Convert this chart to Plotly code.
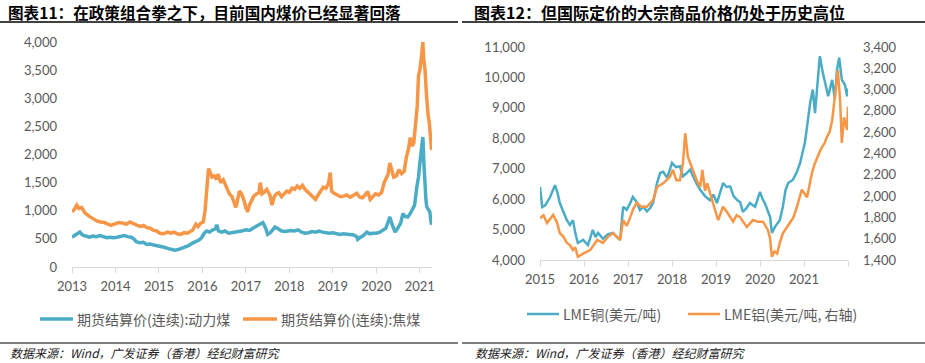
import plotly.graph_objects as go

# ---------------- Left chart: coal futures settlement prices ----------------
coking_x = [2013.00, 2013.05, 2013.11, 2013.16, 2013.22, 2013.30, 2013.40, 2013.48, 2013.57, 2013.66,
            2013.75, 2013.83, 2013.90, 2014.00, 2014.08, 2014.17, 2014.25, 2014.33, 2014.42, 2014.50,
            2014.58, 2014.65, 2014.72, 2014.80, 2014.88, 2014.95, 2015.02, 2015.10, 2015.20, 2015.28,
            2015.35, 2015.42, 2015.50, 2015.58, 2015.66, 2015.72, 2015.78, 2015.85, 2015.90, 2015.96,
            2016.02, 2016.06, 2016.10, 2016.14, 2016.18, 2016.22, 2016.27, 2016.32, 2016.36, 2016.42,
            2016.48, 2016.55, 2016.62, 2016.68, 2016.73, 2016.77, 2016.81, 2016.85, 2016.90, 2016.95,
            2017.00, 2017.04, 2017.08, 2017.13, 2017.18, 2017.24, 2017.30, 2017.33, 2017.37, 2017.42,
            2017.48, 2017.55, 2017.60, 2017.65, 2017.70, 2017.76, 2017.82, 2017.88, 2017.94, 2018.00,
            2018.06, 2018.12, 2018.18, 2018.24, 2018.30, 2018.36, 2018.42, 2018.48, 2018.54, 2018.60,
            2018.66, 2018.72, 2018.78, 2018.84, 2018.90, 2018.94, 2018.97, 2019.03, 2019.10, 2019.18,
            2019.25, 2019.32, 2019.40, 2019.48, 2019.55, 2019.62, 2019.68, 2019.74, 2019.80, 2019.86,
            2019.92, 2019.98, 2020.05, 2020.12, 2020.18, 2020.22, 2020.27, 2020.31, 2020.35, 2020.40,
            2020.46, 2020.52, 2020.58, 2020.64, 2020.69, 2020.74, 2020.78, 2020.82, 2020.86, 2020.90,
            2020.94, 2020.97, 2021.00, 2021.04, 2021.07, 2021.09, 2021.12, 2021.15, 2021.17, 2021.19,
            2021.22, 2021.25, 2021.27]
coking_y = [980, 1020, 1100, 1040, 1060, 960, 900, 860, 820, 800,
            790, 760, 740, 770, 790, 780, 760, 800, 760, 740,
            720, 740, 700, 690, 650, 640, 600, 590, 620, 600,
            620, 590, 580, 610, 600, 640, 660, 760, 720, 780,
            800, 1000, 1400, 1750, 1680, 1600, 1620, 1560, 1650, 1500,
            1550, 1420, 1300, 1250, 1150, 1060, 1200, 1350, 1300, 1200,
            1050, 980, 1100, 1200, 1260, 1300, 1320, 1500, 1300, 1330,
            1380, 1280, 1100, 1250, 1300, 1320, 1250, 1300, 1350, 1330,
            1400, 1380, 1440, 1400, 1450, 1380, 1330, 1300, 1250, 1200,
            1280, 1350, 1420, 1400, 1480, 1680, 1350, 1310, 1280, 1250,
            1260, 1280, 1240, 1270, 1310, 1240, 1230, 1280, 1340, 1200,
            1240, 1300, 1280, 1320, 1500, 1560, 1650, 1850, 1720, 1600,
            1620, 1730, 1660, 1700, 1950, 2100, 2300, 2150, 2200, 2500,
            2850, 3400, 3500, 3750, 4000, 3700, 3500, 3100, 2850, 2700,
            2550, 2200, 2080]

thermal_x = [2013.00, 2013.06, 2013.12, 2013.18, 2013.24, 2013.32, 2013.40, 2013.48, 2013.56, 2013.64,
             2013.72, 2013.80, 2013.88, 2013.96, 2014.04, 2014.12, 2014.20, 2014.28, 2014.36, 2014.42,
             2014.48, 2014.56, 2014.64, 2014.72, 2014.80, 2014.88, 2014.96, 2015.04, 2015.12, 2015.20,
             2015.28, 2015.36, 2015.44, 2015.52, 2015.60, 2015.68, 2015.76, 2015.84, 2015.92, 2015.98,
             2016.04, 2016.10, 2016.16, 2016.24, 2016.30, 2016.33, 2016.37, 2016.44, 2016.52, 2016.60,
             2016.70, 2016.80, 2016.90, 2017.00, 2017.08, 2017.16, 2017.24, 2017.32, 2017.39, 2017.45,
             2017.50, 2017.56, 2017.62, 2017.67, 2017.74, 2017.82, 2017.90, 2017.96, 2018.04, 2018.12,
             2018.20, 2018.28, 2018.36, 2018.44, 2018.52, 2018.60, 2018.68, 2018.76, 2018.84, 2018.92,
             2019.00, 2019.08, 2019.16, 2019.24, 2019.32, 2019.40, 2019.48, 2019.55, 2019.57, 2019.62,
             2019.70, 2019.78, 2019.85, 2019.92, 2020.00, 2020.08, 2020.16, 2020.22, 2020.27, 2020.31,
             2020.36, 2020.43, 2020.50, 2020.56, 2020.61, 2020.66, 2020.72, 2020.78, 2020.84, 2020.88,
             2020.93, 2020.97, 2021.00, 2021.04, 2021.07, 2021.09, 2021.11, 2021.14, 2021.16, 2021.20,
             2021.23, 2021.25, 2021.27]
thermal_y = [530, 560, 580, 620, 570, 550, 530, 550, 540, 560,
             540, 520, 530, 520, 530, 550, 560, 540, 530, 500,
             450, 430, 440, 400, 410, 390, 380, 360, 350, 330,
             320, 300, 310, 330, 360, 380, 420, 450, 480, 520,
             600, 640, 620, 660, 680, 750, 640, 620, 640, 600,
             610, 620, 640, 660, 650, 690, 720, 750, 790, 700,
             580, 610, 660, 710, 680, 640, 630, 640, 650, 640,
             660, 620, 600, 610, 630, 620, 640, 620, 610, 600,
             610, 590, 580, 590, 580, 575, 570, 540, 490, 520,
             560, 620, 590, 600, 600, 620, 660, 690, 800, 890,
             760, 620, 700, 780, 950, 900, 890, 950, 1040, 1100,
             1420, 1600, 1840, 2100, 2310, 1900, 1545, 1200, 1070, 1000,
             980, 850, 750]

left_years = [2013, 2014, 2015, 2016, 2017, 2018, 2019, 2020, 2021]
left_year_labels = ["2013", "2014", "2015", "2016", "2017", "2018", "2019", "2020", "2021"]
left_names = ["期货结算价(连续):动力煤", "期货结算价(连续):焦煤"]

# ---------------- Right chart: LME copper & aluminium ----------------
copper_x = [2015.00, 2015.05, 2015.12, 2015.23, 2015.34, 2015.40, 2015.45, 2015.53, 2015.61, 2015.68,
            2015.75, 2015.80, 2015.86, 2015.98, 2016.09, 2016.20, 2016.26, 2016.32, 2016.43, 2016.55,
            2016.66, 2016.75, 2016.82, 2016.89, 2016.97, 2017.05, 2017.11, 2017.20, 2017.27, 2017.35,
            2017.43, 2017.50, 2017.57, 2017.66, 2017.73, 2017.80, 2017.89, 2018.00, 2018.09, 2018.18,
            2018.25, 2018.33, 2018.41, 2018.48, 2018.56, 2018.64, 2018.75, 2018.86, 2018.94, 2019.02,
            2019.09, 2019.16, 2019.24, 2019.32, 2019.40, 2019.48, 2019.55, 2019.61, 2019.69, 2019.77,
            2019.89, 2020.00, 2020.06, 2020.11, 2020.18, 2020.23, 2020.27, 2020.34, 2020.45, 2020.52,
            2020.58, 2020.64, 2020.75, 2020.84, 2020.91, 2021.02, 2021.08, 2021.14, 2021.20, 2021.25,
            2021.32, 2021.36, 2021.43, 2021.50, 2021.55, 2021.64, 2021.70, 2021.75, 2021.80, 2021.86,
            2021.93, 2021.98, 2022.00]
copper_y = [6400, 5740, 5800, 6070, 6460, 6200, 5870, 5600, 5310, 5150,
            5310, 4900, 4560, 4660, 4490, 4990, 4750, 4890, 4700, 4850,
            4890, 4750, 4660, 5750, 5650, 5870, 6070, 5900, 5640, 5750,
            5600, 5700, 5870, 6530, 6860, 6900, 6700, 7190, 7050, 7080,
            6750, 6850, 6970, 6750, 6500, 6310, 6100, 5970, 6150, 5870,
            6200, 6530, 6400, 6420, 6100, 5970, 5900, 5580, 5700, 5870,
            5750, 6240, 6000, 5870, 5600, 5410, 4890, 5090, 5310, 5750,
            6300, 6530, 6640, 6900, 7180, 7850, 8500, 9160, 9600, 8830,
            10030, 10700, 10140, 9700, 9380, 9920, 9300, 10250, 10650, 9920,
            9760, 9380, 9640]

alu_x = [2015.00, 2015.08, 2015.16, 2015.30, 2015.39, 2015.45, 2015.53, 2015.61, 2015.68, 2015.75,
         2015.80, 2015.86, 2015.98, 2016.06, 2016.14, 2016.22, 2016.30, 2016.43, 2016.55, 2016.66,
         2016.75, 2016.82, 2016.89, 2016.97, 2017.05, 2017.12, 2017.20, 2017.30, 2017.43, 2017.57,
         2017.66, 2017.80, 2017.95, 2018.02, 2018.10, 2018.18, 2018.25, 2018.30, 2018.36, 2018.42,
         2018.48, 2018.56, 2018.64, 2018.69, 2018.75, 2018.80, 2018.93, 2019.05, 2019.16, 2019.25,
         2019.39, 2019.47, 2019.55, 2019.62, 2019.70, 2019.84, 2019.95, 2020.07, 2020.18, 2020.23,
         2020.27, 2020.33, 2020.39, 2020.45, 2020.52, 2020.60, 2020.68, 2020.76, 2020.84, 2020.95,
         2021.07, 2021.12, 2021.18, 2021.24, 2021.30, 2021.36, 2021.41, 2021.47, 2021.52, 2021.58,
         2021.64, 2021.70, 2021.77, 2021.82, 2021.86, 2021.91, 2021.95, 2021.98, 2022.00]
alu_y = [1792, 1820, 1747, 1823, 1747, 1653, 1620, 1560, 1540, 1494,
         1520, 1430, 1460, 1480, 1494, 1540, 1588, 1560, 1620, 1653,
         1620, 1588, 1775, 1720, 1800, 1880, 1935, 1900, 1900, 1963,
         2085, 2120, 2180, 2245, 2150, 2150, 2310, 2590, 2370, 2300,
         2245, 2150, 2085, 2245, 2050, 2120, 1935, 1775, 1900, 1850,
         1760, 1820, 1800, 1760, 1710, 1775, 1760, 1760, 1682, 1600,
         1430, 1480, 1460, 1560, 1650, 1700, 1747, 1800, 1900, 2060,
         1990, 2100, 2215, 2300, 2370, 2420, 2460, 2500, 2555, 2600,
         2710, 2930, 3180, 2900, 2500, 2740, 2680, 2620, 2840]

right_years = [2015, 2016, 2017, 2018, 2019, 2020, 2021, 2022]
right_year_labels = ["2015", "2016", "2017", "2018", "2019", "2020", "2021", ""]
right_names = ["LME铜(美元/吨)", "LME铝(美元/吨, 右轴)"]

BLUE = "#4BACC6"
ORANGE = "#F79646"
GRAY = "#595959"
AXIS = "#D9D9D9"
TICKFONT = dict(family="Lato, Noto Sans CJK SC, sans-serif", size=13, color=GRAY)
CJK = "Noto Sans CJK SC, sans-serif"

W, H = 925, 363
def px(x):
    return x / W
def py(y):
    return (H - y) / H

fig = go.Figure()

fig.add_trace(go.Scatter(x=thermal_x, y=thermal_y, mode="lines", name=left_names[0],
                         line=dict(color=BLUE, width=3.5), xaxis="x", yaxis="y"))
fig.add_trace(go.Scatter(x=coking_x, y=coking_y, mode="lines", name=left_names[1],
                         line=dict(color=ORANGE, width=3.5), xaxis="x", yaxis="y"))
fig.add_trace(go.Scatter(x=copper_x, y=copper_y, mode="lines", name=right_names[0],
                         line=dict(color=BLUE, width=2.5), xaxis="x2", yaxis="y2"))
fig.add_trace(go.Scatter(x=alu_x, y=alu_y, mode="lines", name=right_names[1],
                         line=dict(color=ORANGE, width=2.5), xaxis="x2", yaxis="y3"))

xcommon = dict(showgrid=False, zeroline=False, showline=True, linecolor=AXIS, linewidth=1,
               ticks="outside", ticklen=5, tickcolor=AXIS, tickfont=TICKFONT, ticklabelstandoff=2,
               automargin=False)
ycommon = dict(showgrid=False, zeroline=False, showline=False, tickfont=TICKFONT,
               tickformat=",", ticks="", ticklabelstandoff=14, automargin=False)

fig.update_layout(
    width=W, height=H,
    margin=dict(l=0, r=0, t=0, b=0, autoexpand=False),
    paper_bgcolor="white", plot_bgcolor="white",
    showlegend=False,
    xaxis=dict(domain=[px(72), px(432)], range=[2013, 2021.28], tickvals=left_years,
               ticktext=left_year_labels, anchor="y", **xcommon),
    yaxis=dict(domain=[py(267), py(42)], range=[0, 4000], dtick=500, anchor="x", **ycommon),
    xaxis2=dict(domain=[px(540), px(848)], range=[2015, 2022], tickvals=right_years,
                ticktext=right_year_labels, anchor="y2", **xcommon),
    yaxis2=dict(domain=[py(260), py(47)], range=[4000, 11000], dtick=1000, anchor="x2", **ycommon),
    yaxis3=dict(range=[1400, 3400], dtick=200, overlaying="y2", side="right", anchor="x2", **ycommon),
)

# Legends (line sample + label) drawn in paper space
legend_items = [
    (40, 73, 319, BLUE, left_names[0], 3.5),
    (243, 277, 319, ORANGE, left_names[1], 3.5),
    (527, 559, 314, BLUE, right_names[0], 2.5),
    (688, 720, 314, ORANGE, right_names[1], 2.5),
]
for x0, x1, yy, col, label, lw in legend_items:
    fig.add_shape(type="line", xref="paper", yref="paper", x0=px(x0), x1=px(x1), y0=py(yy), y1=py(yy),
                  line=dict(color=col, width=lw))
    fig.add_annotation(x=px(x1 + 2), y=py(yy), xref="paper", yref="paper", xanchor="left", yanchor="middle",
                       text=label, showarrow=False, font=dict(family=CJK, size=14, color=GRAY))

# Titles
fig.add_annotation(x=px(6), y=py(12), xref="paper", yref="paper", xanchor="left", yanchor="middle",
                   text="<b>图表11：在政策组合拳之下，目前国内煤价已经显著回落</b>", showarrow=False,
                   font=dict(family=CJK, size=15.6, color="#000000"))
fig.add_annotation(x=px(472), y=py(12), xref="paper", yref="paper", xanchor="left", yanchor="middle",
                   text="<b>图表12：但国际定价的大宗商品价格仍处于历史高位</b>", showarrow=False,
                   font=dict(family=CJK, size=16, color="#000000"))
# Sources
for sx in (8, 473):
    fig.add_annotation(x=px(sx), y=py(352), xref="paper", yref="paper", xanchor="left", yanchor="middle",
                       text="<i>数据来源：Wind，广发证券（香港）经纪财富研究</i>", showarrow=False,
                       font=dict(family=CJK, size=12, color="#222222"))

# Rules
fig.add_shape(type="line", xref="paper", yref="paper", x0=0, x1=px(458), y0=py(22), y1=py(22),
              line=dict(color="#000000", width=1.5))
fig.add_shape(type="line", xref="paper", yref="paper", x0=px(462), x1=1, y0=py(22), y1=py(22),
              line=dict(color="#000000", width=1.5))
fig.add_shape(type="line", xref="paper", yref="paper", x0=0, x1=px(458), y0=py(343), y1=py(343),
              line=dict(color="#000000", width=1.2))
fig.add_shape(type="line", xref="paper", yref="paper", x0=px(462), x1=1, y0=py(343), y1=py(343),
              line=dict(color="#000000", width=1.2))

fig.write_html("out.html", config={"displayModeBar": False},
               post_script="document.body.style.margin='0';document.body.style.overflow='hidden';")
